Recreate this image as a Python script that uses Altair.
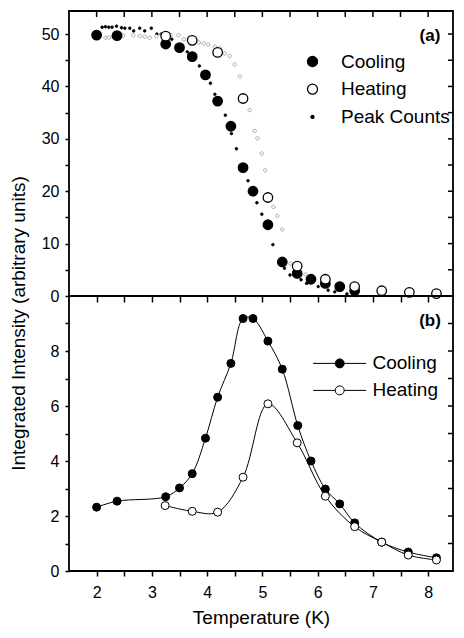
import altair as alt
import pandas as pd

FONT = "Liberation Sans"

# ---------------- Panel (a): integrated intensity / peak counts ----------------
cool_a_T = [2.0, 2.37, 3.25, 3.5, 3.73, 3.97, 4.19, 4.43, 4.65, 4.83, 5.1, 5.36,
            5.63, 5.88, 6.14, 6.4, 6.67]
cool_a_I = [49.8, 49.7, 48.1, 47.4, 45.7, 42.2, 37.2, 32.4, 24.5, 20.0, 13.6, 6.5,
            4.3, 3.2, 2.4, 1.8, 1.0]
heat_a_T = [3.25, 3.73, 4.19, 4.65, 5.10, 5.63, 6.14, 6.67, 7.16, 7.66, 8.15]
heat_a_I = [49.6, 48.8, 46.5, 37.7, 18.8, 5.7, 3.2, 1.8, 1.0, 0.7, 0.45]

peak_cool_T = [2.10, 2.16, 2.22, 2.28, 2.36, 2.45, 2.51, 2.60, 2.67, 2.78, 2.87, 2.99,
               3.09, 3.17, 3.28, 3.36, 3.64, 3.86, 4.06, 4.14, 4.33, 4.44, 4.53, 4.74,
               4.90, 4.99, 5.19, 5.33, 5.40, 5.50, 5.57, 5.70, 5.80, 5.89, 6.01, 6.19,
               6.31, 6.53, 6.64, 6.69]
peak_cool_I = [51.3, 51.4, 51.3, 51.3, 51.5, 51.2, 51.1, 51.1, 50.6, 51.1, 50.6, 51.1,
               50.0, 50.0, 49.6, 49.0, 46.6, 43.9, 40.6, 38.5, 34.5, 31.0, 28.1, 22.0,
               17.8, 15.6, 9.8, 6.9, 5.3, 4.0, 4.6, 3.1, 2.4, 2.7, 1.8, 1.1,
               0.8, 0.4, 0.2, 0.1]
peak_heat_T = [2.16, 2.22, 2.29, 2.48, 2.66, 2.78, 2.87, 2.96, 3.08, 3.18, 3.34, 3.48,
               3.58, 3.67, 3.85, 3.94, 4.02, 4.14, 4.23, 4.32, 4.41, 4.50, 4.59, 4.77,
               4.86, 4.91, 4.99, 5.05, 5.20, 5.27, 5.36, 5.51, 5.78]
peak_heat_I = [49.3, 49.3, 49.5, 49.7, 49.8, 49.6, 49.5, 49.3, 49.6, 49.8, 49.8, 49.8,
               49.0, 49.3, 48.4, 48.2, 48.0, 47.6, 47.3, 46.3, 45.8, 44.2, 41.9, 35.5,
               31.5, 30.1, 27.2, 24.0, 17.0, 15.3, 12.7, 6.2, 4.1]

# ---------------- Panel (b) ----------------
cool_b_T = [2.0, 2.37, 3.25, 3.5, 3.73, 3.97, 4.19, 4.43, 4.65, 4.83, 5.10, 5.36,
            5.64, 5.88, 6.14, 6.40, 6.67, 7.16, 7.64, 8.15]
cool_b_I = [2.32, 2.54, 2.70, 3.02, 3.54, 4.83, 6.32, 7.55, 9.18, 9.18, 8.36, 7.34,
            5.29, 4.00, 2.98, 2.44, 1.75, 1.05, 0.69, 0.48]
heat_b_T = [3.24, 3.73, 4.19, 4.65, 5.10, 5.63, 6.14, 6.67, 7.16, 7.64, 8.15]
heat_b_I = [2.38, 2.17, 2.14, 3.41, 6.08, 4.66, 2.72, 1.61, 1.05, 0.58, 0.40]

series_a = ["Cooling", "Heating", "Peak Counts", "Peak Counts (heating)"]
series_b = ["Cooling", "Heating"]
panel_labels = ["(a)", "(b)"]
x_ticks = [2.0, 2.5, 3.0, 3.5, 4.0, 4.5, 5.0, 5.5, 6.0, 6.5, 7.0, 7.5, 8.0]
ya_ticks = [0, 5, 10, 15, 20, 25, 30, 35, 40, 45, 50]
yb_ticks = [0, 1, 2, 3, 4, 5, 6, 7, 8, 9]
x_title = "Temperature (K)"
y_title = "Integrated Intensity (arbitrary units)"

W, HA, HB = 384, 285, 275


def frame(T, I, name, key):
    return pd.DataFrame({"T": T, "I": I, key: name})


big_a = pd.concat([frame(cool_a_T, cool_a_I, series_a[0], "sa"),
                   frame(heat_a_T, heat_a_I, series_a[1], "sa")])
small_a = pd.concat([frame(peak_cool_T, peak_cool_I, series_a[2], "sa"),
                     frame(peak_heat_T, peak_heat_I, series_a[3], "sa")])
df_b = pd.concat([frame(cool_b_T, cool_b_I, series_b[0], "sb"),
                  frame(heat_b_T, heat_b_I, series_b[1], "sb")])
xt_df = pd.DataFrame({"t": x_ticks})
yta_df = pd.DataFrame({"v": ya_ticks})
ytb_df = pd.DataFrame({"v": yb_ticks})

xs = alt.Scale(domain=[1.5, 8.45], nice=False, zero=False)
ysa = alt.Scale(domain=[0, 54.4], nice=False)
ysb = alt.Scale(domain=[0, 10], nice=False)

DOT = "M0.3,0A0.3,0.3,0,1,1,-0.3,0A0.3,0.3,0,1,1,0.3,0Z"
ODOT = "M0.36,0A0.36,0.36,0,1,1,-0.36,0A0.36,0.36,0,1,1,0.36,0Z"
LINEDOT = ("M-2.65,0L-0.45,0M0.45,0L2.65,0"
           "M0.45,0A0.45,0.45,0,1,1,-0.45,0A0.45,0.45,0,1,1,0.45,0Z")

leg_a = alt.Legend(title=None, orient="none", legendX=234, legendY=41,
                   values=series_a[:3], labelFont=FONT, labelFontSize=19,
                   labelColor="black", labelOffset=19, rowPadding=7.7, padding=0,
                   symbolSize=100, symbolStrokeWidth=1.3)
fill_a = alt.Fill("sa:N", scale=alt.Scale(domain=series_a,
                  range=["black", "white", "black", "white"]), legend=leg_a)
stroke_a = alt.Stroke("sa:N", scale=alt.Scale(domain=series_a,
                      range=["black", "black", "black", "#777777"]), legend=leg_a)
shape_a = alt.Shape("sa:N", scale=alt.Scale(domain=series_a,
                    range=["circle", "circle", DOT, ODOT]), legend=leg_a)

main_x_a = alt.Axis(orient="bottom", values=x_ticks, labels=False, tickSize=6, title=None)
main_y_a = alt.Axis(orient="left", values=ya_ticks, format=".0f",
                    labelExpr="datum.value % 10 === 0 ? datum.label : ''",
                    tickSize=4, labelPadding=6, title=y_title, titleX=-60, titleY=312,
                    titleAngle=270, titleAlign="center", titleBaseline="top",
                    titleFontSize=19)

small = alt.Chart(small_a).mark_point(filled=True, size=90, strokeWidth=0.6, opacity=1).encode(
    x=alt.X("T:Q", scale=xs, axis=main_x_a),
    y=alt.Y("I:Q", scale=ysa, axis=main_y_a),
    fill=fill_a, stroke=stroke_a, shape=shape_a)

big = alt.Chart(big_a).mark_point(filled=True, size=90, strokeWidth=1.3, opacity=1).encode(
    x=alt.X("T:Q", scale=xs, axis=None),
    y=alt.Y("I:Q", scale=ysa, axis=None),
    fill=fill_a, stroke=stroke_a, shape=shape_a)

# inward mirror ticks on the top and right edges of panel (a)
top_ticks_a = alt.Chart(xt_df).mark_rule(color="black", strokeWidth=1.5).encode(
    x=alt.X("t:Q", scale=xs, axis=None), y=alt.value(0), y2=alt.value(6))
right_ticks_a = alt.Chart(yta_df).mark_rule(color="black", strokeWidth=1.5).encode(
    y=alt.Y("v:Q", scale=ysa, axis=None), x=alt.value(W - 5), x2=alt.value(W))

lab_a = alt.Chart(pd.DataFrame({"lab": [panel_labels[0]]})).mark_text(
    font=FONT, fontSize=17, fontWeight="bold", color="black").encode(
    x=alt.value(361), y=alt.value(25), text="lab:N")

top = alt.layer(small, big, top_ticks_a, right_ticks_a, lab_a).resolve_axis(
    x="independent", y="independent").properties(width=W, height=HA)

# ---- panel b ----
leg_b = alt.Legend(title=None, orient="none", legendX=260.2, legendY=56.9,
                   symbolType=LINEDOT, symbolSize=400, symbolStrokeColor="black",
                   symbolStrokeWidth=1, labelFont=FONT, labelFontSize=19,
                   labelColor="black", labelOffset=22.3, rowPadding=6, padding=0)

main_x_b = alt.Axis(orient="bottom", values=x_ticks, format=".0f",
                    labelExpr="datum.value % 1 === 0 ? datum.label : ''",
                    tickSize=5, labelPadding=8, title=x_title, titlePadding=8,
                    titleFontSize=19)
main_y_b = alt.Axis(orient="left", values=yb_ticks, format=".0f",
                    labelExpr="datum.value % 2 === 0 ? datum.label : ''",
                    tickSize=4, labelPadding=6, title=None)

line_b = alt.Chart(df_b).mark_line(color="black", strokeWidth=1,
                                    interpolate="catmull-rom").encode(
    x=alt.X("T:Q", scale=xs, axis=main_x_b),
    y=alt.Y("I:Q", scale=ysb, axis=main_y_b),
    detail="sb:N")

pts_b = alt.Chart(df_b).mark_point(filled=True, size=64, stroke="black", strokeWidth=1,
                                   opacity=1).encode(
    x=alt.X("T:Q", scale=xs, axis=None),
    y=alt.Y("I:Q", scale=ysb, axis=None),
    fill=alt.Fill("sb:N", scale=alt.Scale(domain=series_b, range=["black", "white"]),
                  legend=leg_b))

right_ticks_b = alt.Chart(ytb_df).mark_rule(color="black", strokeWidth=1.5).encode(
    y=alt.Y("v:Q", scale=ysb, axis=None), x=alt.value(W - 5), x2=alt.value(W))

lab_b = alt.Chart(pd.DataFrame({"lab": [panel_labels[1]]})).mark_text(
    font=FONT, fontSize=17, fontWeight="bold", color="black").encode(
    x=alt.value(361), y=alt.value(25), text="lab:N")

bottom = alt.layer(line_b, pts_b, right_ticks_b, lab_b).resolve_axis(
    x="independent", y="independent").properties(width=W, height=HB)

chart = alt.vconcat(top, bottom, spacing=0, bounds="flush").resolve_scale(
    fill="independent", stroke="independent", shape="independent"
).properties(
    padding={"left": 0, "top": 1, "right": 0, "bottom": 0}
).configure_view(
    stroke="black", strokeWidth=1.8
).configure_axis(
    labelFont=FONT, labelFontSize=16, labelColor="black", tickColor="black",
    tickWidth=1.5, titleFont=FONT, titleFontWeight="normal", titleColor="black",
    grid=False, domain=False
)

chart.save("out.html", embed_options={"renderer": "svg", "actions": False})
